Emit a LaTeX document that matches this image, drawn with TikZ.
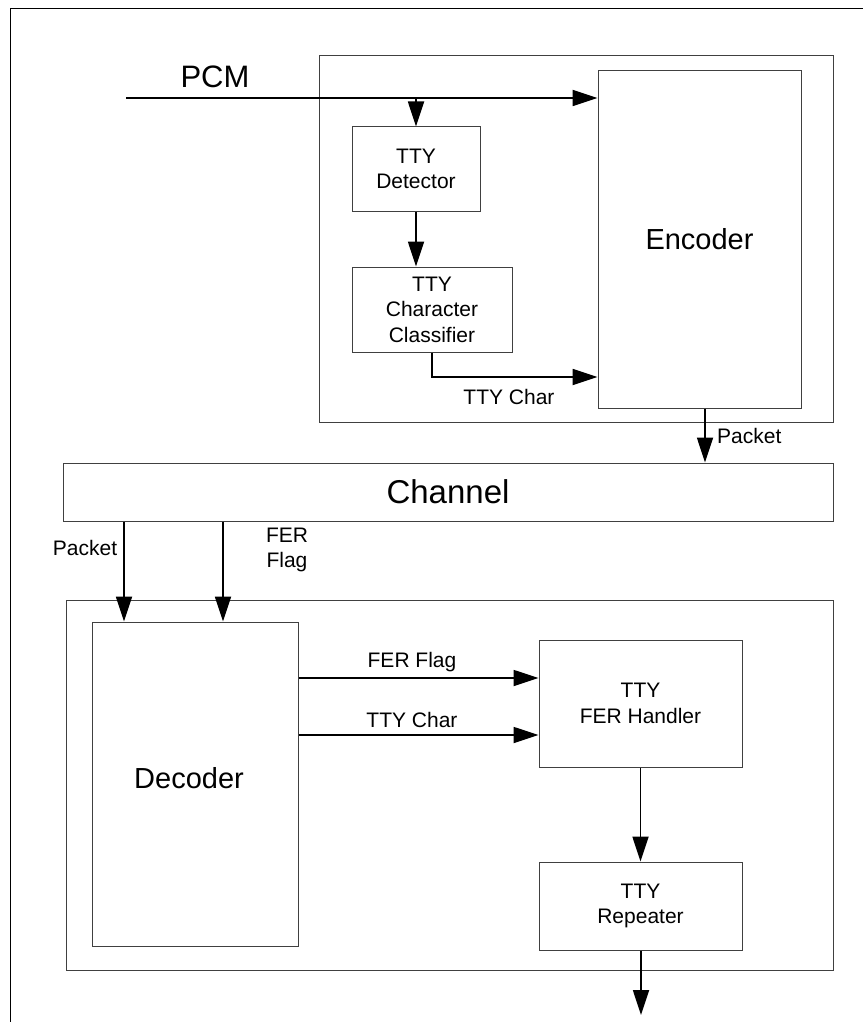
\documentclass[tikz,border=0pt]{standalone}
\usepackage{fontspec}
\setmainfont{Liberation Sans}
\usetikzlibrary{arrows.meta}
\begin{document}
\begin{tikzpicture}[x=1pt,y=-1pt,
  grp/.style={draw=black!75, line width=1pt, inner sep=0pt},
  box/.style={draw=black!75, line width=1pt, inner sep=0pt, align=center, font=\fontsize{21}{25.5}\selectfont},
  lbl/.style={inner sep=0pt, align=center, font=\fontsize{21}{25.5}\selectfont},
  bigtxt/.style={inner sep=0pt, font=\fontsize{29}{34}\selectfont},
  arr/.style={line width=1.8pt, -{Triangle[length=25pt,width=16pt]}}]
\useasboundingbox (0,0) rectangle (863,1022);
% outer frame (cropped)
\draw[line width=1pt] (10,1022) -- (10,9) -- (863,9);
% group boxes
\node[grp, minimum width=514pt, minimum height=366pt] (encgrp) at (576,239) {};
\node[grp, minimum width=767pt, minimum height=370pt] (decgrp) at (449.5,785) {};
% blocks
\node[box, minimum width=203pt, minimum height=337pt] (enc) at (699.5,239.5) {};
\node[bigtxt] (enctxt) at (enc.center) {Encoder};
\node[box, minimum width=128pt, minimum height=84pt] (det) at (416,169) {TTY\\Detector};
\node[box, minimum width=160pt, minimum height=85pt] (cls) at (432,309.5) {TTY\\Character\\Classifier};
\node[box, minimum width=770pt, minimum height=58pt] (chan) at (448,492) {};
\node[bigtxt, font=\fontsize{33}{38}\selectfont] (chantxt) at (chan.center) {Channel};
\node[box, minimum width=206pt, minimum height=324pt] (dec) at (195,784) {};
\node[bigtxt] (dectxt) at (189,778) {Decoder};
\node[box, minimum width=203pt, minimum height=127pt] (hdl) at (640.5,703.5) {TTY\\FER Handler};
\node[box, minimum width=203pt, minimum height=88pt] (rep) at (640.5,906) {TTY\\Repeater};
% labels
\node[bigtxt, font=\fontsize{31}{36}\selectfont] (pcmlbl) at (215,77) {PCM};
\node[lbl] (ttycharA) at (509,397) {TTY Char};
\node[lbl, anchor=west] (pkA) at (717,436) {Packet};
\node[lbl] (pkB) at (85,548) {Packet};
\node[lbl] (ferA) at (287,550) {FER\\Flag};
\node[lbl] (ferB) at (412,662) {FER Flag};
\node[lbl] (ttycharB) at (412,720) {TTY Char};
% helper coordinates
\coordinate (pcm0) at (126,98);
\coordinate (tcy) at (0,377);
\coordinate (pkx) at (705,0);
\coordinate (c1) at (124,0);
\coordinate (c2) at (223,0);
\coordinate (y1) at (0,678);
\coordinate (y2) at (0,735);
\coordinate (out) at (641,1015);
% connectors
\draw[arr] (pcm0) -- (pcm0 -| enc.west);
\draw[arr] (det.north |- pcm0) -- (det.north);
\draw[arr] (det.south) -- (det.south |- cls.north);
\draw[arr] (cls.south) |- (tcy -| enc.west);
\draw[arr] (pkx |- enc.south) -- (pkx |- chan.north);
\draw[arr] (c1 |- chan.south) -- (c1 |- dec.north);
\draw[arr] (c2 |- chan.south) -- (c2 |- dec.north);
\draw[arr] (y1 -| dec.east) -- (y1 -| hdl.west);
\draw[arr] (y2 -| dec.east) -- (y2 -| hdl.west);
\draw[arr] (hdl.south) -- (rep.north);
\draw[arr] (out |- rep.south) -- (out);
\end{tikzpicture}
\end{document}
